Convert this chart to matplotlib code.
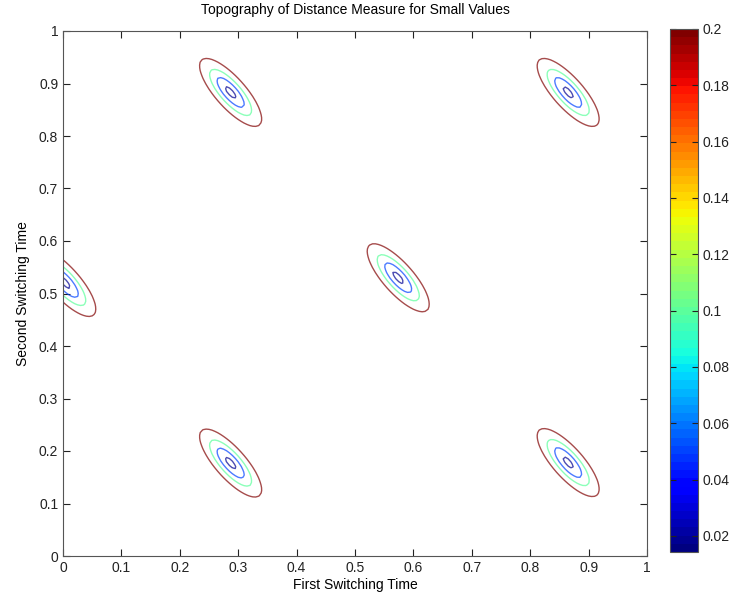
import numpy as np
import matplotlib
matplotlib.use("Agg")
import matplotlib.pyplot as plt
from matplotlib.colors import Normalize
from matplotlib.cm import ScalarMappable

plt.rcParams["font.family"] = ["Liberation Sans", "DejaVu Sans"]

# minima of the distance measure (first, second switching time)
centre_x = [0.287, 0.865, 0.574, 0.003, 0.287, 0.865]
centre_y = [0.883, 0.883, 0.530, 0.521, 0.177, 0.178]
# semi-axes of the 0.2 contour around each minimum
major_axis = [0.0495, -0.0620]
minor_axis = [-0.0195, -0.0190]
min_value = 0.0143
max_value = 0.2
levels = [0.02, 0.05, 0.1, 0.2]
cbar_ticks = [0.02, 0.04, 0.06, 0.08, 0.1, 0.12, 0.14, 0.16, 0.18, 0.2]

# field on the sampling grid
t = np.linspace(0, 1, 201)
X, Y = np.meshgrid(t, t)
M_inv = np.linalg.inv(np.array([major_axis, minor_axis]).T)
Z = np.full(X.shape, np.inf)
for cx, cy in zip(centre_x, centre_y):
    p = np.stack([X - cx, Y - cy])
    s = np.tensordot(M_inv, p, axes=1)
    r2 = s[0] ** 2 + s[1] ** 2
    Z = np.minimum(Z, min_value + (max_value - min_value) * r2)

cmap = plt.get_cmap("jet", 64)
norm = Normalize(vmin=min_value, vmax=max_value)

fig = plt.figure(figsize=(7.35, 5.96), dpi=100)
ax = fig.add_axes([63 / 735, 40 / 596, 584 / 735, 525 / 596])
cax = fig.add_axes([670 / 735, 44 / 596, 28 / 735, 523 / 596])

ax.contour(X, Y, Z, levels=levels, cmap=cmap, norm=norm, linewidths=1.0, alpha=0.7)

ax.set_xlim(0, 1)
ax.set_ylim(0, 1)
ax.set_xticks(np.arange(0, 1.01, 0.1))
ax.set_yticks(np.arange(0, 1.01, 0.1))
ax.set_xticklabels(["0", "0.1", "0.2", "0.3", "0.4", "0.5", "0.6", "0.7", "0.8", "0.9", "1"])
ax.set_yticklabels(["0", "0.1", "0.2", "0.3", "0.4", "0.5", "0.6", "0.7", "0.8", "0.9", "1"])
ax.tick_params(direction="in", top=True, right=True, length=5, labelsize=10, colors="#222222")
for sp in ax.spines.values():
    sp.set_color("#555555")
ax.set_xlabel("First Switching Time", fontsize=10, labelpad=2)
ax.set_ylabel("Second Switching Time", fontsize=10, labelpad=6)
ax.set_title("Topography of Distance Measure for Small Values", fontsize=10, pad=12)

cb = fig.colorbar(ScalarMappable(norm=norm, cmap=cmap), cax=cax)
cb.set_ticks(cbar_ticks)
cb.set_ticklabels(["0.02", "0.04", "0.06", "0.08", "0.1", "0.12", "0.14", "0.16", "0.18", "0.2"])
cax.tick_params(direction="in", left=True, right=True, length=4, labelsize=10, colors="#222222")
cb.outline.set_edgecolor("#555555")

fig.savefig("out.png", dpi=100)
